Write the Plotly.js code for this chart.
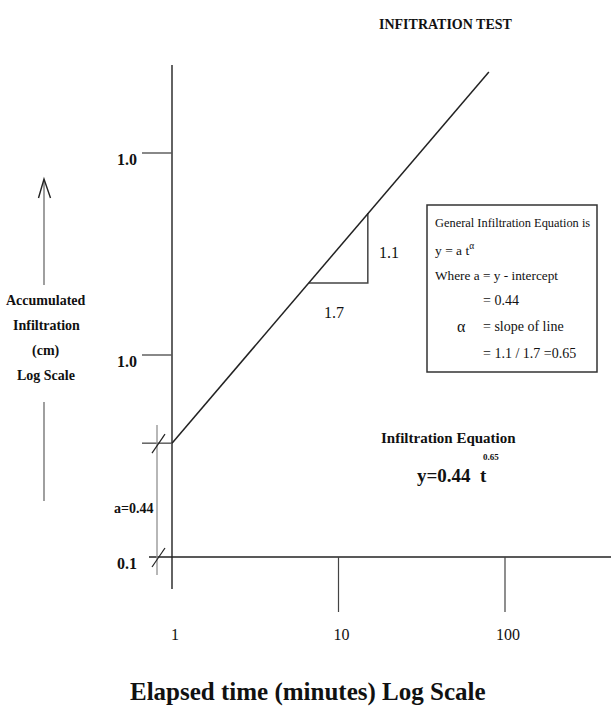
<!DOCTYPE html>
<html>
<head>
<meta charset="utf-8">
<script src="https://cdn.plot.ly/plotly-3.0.1.min.js"></script>
<style>html,body{margin:0;padding:0;background:#fff;}#chart{width:611px;height:709px;}</style>
</head>
<body>
<div id="chart"></div>
<script>
// ---- data ----
const xTickVals = [1, 10, 100];
const xTickText = ['1', '10', '100'];
const xTickMarkVals = [10, 100];          // x values that carry a drawn tick mark
const yTickVals = [0.1, 1, 10];
const yTickText = ['0.1', '1.0', '1.0'];
const yTickMarkVals = [1, 10];            // y values that carry a drawn tick mark
const lineT = [1, 80];                    // elapsed time (min)
const lineY = [0.366, 25.2];              // accumulated infiltration (cm), as drawn
const triT = [6.65, 15.0, 15.0];          // slope triangle
const triY = [2.27, 2.27, 5.05];
const interceptY = 0.366;                 // drawn intercept (labelled a=0.44)
const baseY = 0.1;
const yLabelLines = ['Accumulated', 'Infiltration', '(cm)', 'Log Scale'];
const boxLines = ['General Infiltration Equation is', 'y = a t<sup>α</sup>', 'Where a = y - intercept', '= 0.44', '= slope of line', '= 1.1 / 1.7 =0.65'];

// ---- scales ----
const W = 611, H = 709;
const X0PX = 172, XDEC = 166.5;   // pixel of t=1, pixels per decade
const Y01PX = 557, YDEC = 202;    // pixel of y=0.1, pixels per decade
const px2x = p => Math.pow(10, (p - X0PX) / XDEC);
const px2y = p => Math.pow(10, -1 + (Y01PX - p) / YDEC);
const xRange = [(0 - X0PX) / XDEC, (W - X0PX) / XDEC];
const yRange = [-1 - (H - Y01PX) / YDEC, -1 + Y01PX / YDEC];
const dx = (v, p) => v * Math.pow(10, p / XDEC);   // shift x value by p pixels
const dy = (v, p) => v * Math.pow(10, -p / YDEC);  // shift y value by p pixels (down +)

const FONT = 'Liberation Serif, Times New Roman, serif';
const ln = (x, y, color, width) => ({x, y, type: 'scatter', mode: 'lines', hoverinfo: 'skip', showlegend: false,
  line: {color: color, width: width}});

function segs(pairs) { const x = [], y = []; pairs.forEach(p => { x.push(p[0][0], p[1][0], null); y.push(p[0][1], p[1][1], null); }); return {x, y}; }

const traces = [];
// y axis line
traces.push(ln([1, 1], [px2y(65), px2y(589)], '#222', 1.4));
// x axis line
traces.push(ln([px2x(149), px2x(W + 5)], [baseY, baseY], '#222', 1.4));
// y tick marks
let s = segs(yTickMarkVals.map(v => [[px2x(142), v], [1, v]]));
traces.push(ln(s.x, s.y, '#555', 1.4));
// x tick marks
s = segs(xTickMarkVals.map(v => [[v, baseY], [v, px2y(612)]]));
traces.push(ln(s.x, s.y, '#444', 1.2));
// intercept mark
traces.push(ln([px2x(142), 1], [interceptY, interceptY], '#555', 1.4));
// dimension line for a
const dimX = px2x(157);
traces.push(ln([dimX, dimX], [px2y(425), px2y(575)], '#999', 1.4));
// slashes on dimension line
s = segs([interceptY, baseY].map(v => [[dx(dimX, -5), dy(v, 10)], [dx(dimX, 8), dy(v, -9)]]));
traces.push(ln(s.x, s.y, '#222', 1.2));
// slope triangle
traces.push(ln(triT, triY, '#444', 1.5));
// infiltration line
traces.push(ln(lineT, lineY, '#222', 1.5));

const P = (x, y) => ({x: x / W, y: 1 - y / H, xref: 'paper', yref: 'paper'});
const ann = (x, y, text, size, bold, extra) => Object.assign(P(x, y), {
  text: bold ? '<b>' + text + '</b>' : text, showarrow: false, xanchor: 'center', yanchor: 'middle',
  font: {family: FONT, size: size, color: '#111'}}, extra || {});

const annotations = [];
annotations.push(ann(446, 25, 'INFITRATION TEST', 14, true));
yLabelLines.forEach((t, i) => annotations.push(ann(46, 300 + i * 25.3, t, 14, true)));
annotations.push(ann(389, 252, '1.1', 16, false));
annotations.push(ann(334, 312, '1.7', 16, false));
const boxX = [433, 433, 433, 481, 481, 481];
const boxY = [223, 249, 275, 300, 327, 353];
const boxSize = [12.4, 13.5, 13.3, 14, 14, 14];
boxLines.forEach((t, i) => annotations.push(ann(boxX[i], boxY[i], t, boxSize[i], false, {xanchor: 'left'})));
annotations.push(ann(461, 327, 'α', 16, false));
annotations.push(ann(448, 438, 'Infiltration Equation', 15, true));
annotations.push(ann(452, 476, 'y=0.44&nbsp;&nbsp;t', 19, true));
annotations.push(ann(491, 457, '0.65', 9, true));
annotations.push(ann(133, 508, 'a=0.44', 14, true));
annotations.push(ann(308, 692, 'Elapsed time (minutes) Log Scale', 25, true));
// y tick labels, placed on the y scale
yTickVals.forEach((v, i) => annotations.push({x: 139 / W, xref: 'paper', y: Math.log10(v), yref: 'y',
  xanchor: 'right', yanchor: 'middle', yshift: -6, showarrow: false, text: '<b>' + yTickText[i] + '</b>',
  font: {family: FONT, size: 16, color: '#111'}}));

const pl = (x0, y0, x1, y1) => ({type: 'line', xref: 'paper', yref: 'paper', x0: x0 / W, x1: x1 / W,
  y0: 1 - y0 / H, y1: 1 - y1 / H, line: {color: '#777', width: 1.4}});
const shapes = [
  {type: 'rect', xref: 'paper', yref: 'paper', x0: 427 / W, x1: 597 / W, y0: 1 - 205 / H, y1: 1 - 372 / H,
   line: {color: '#333', width: 1.5}, fillcolor: 'rgba(0,0,0,0)'},
  pl(44, 180, 44, 285),
  pl(44, 402, 44, 501),
  {type: 'path', xref: 'paper', yref: 'paper',
   path: 'M ' + (38.5 / W) + ' ' + (1 - 198 / H) + ' L ' + (44 / W) + ' ' + (1 - 179 / H) + ' L ' + (50.5 / W) + ' ' + (1 - 198 / H),
   line: {color: '#222', width: 1.4}}
];

const layout = {
  width: W, height: H, margin: {l: 0, r: 0, t: 0, b: 0},
  paper_bgcolor: '#fff', plot_bgcolor: '#fff', showlegend: false,
  xaxis: {type: 'log', range: xRange, domain: [0, 1], anchor: 'free', position: 1 - Y01PX / H,
    showgrid: false, zeroline: false, showline: false, ticks: '',
    tickmode: 'array', tickvals: xTickVals, ticktext: xTickText, ticklabelstandoff: 66, ticklabelshift: 3,
    tickfont: {family: FONT, size: 16, color: '#111'}, fixedrange: true},
  yaxis: {type: 'log', range: yRange, domain: [0, 1], anchor: 'free', position: X0PX / W,
    showgrid: false, zeroline: false, showline: false, ticks: '', showticklabels: false,
    fixedrange: true},
  annotations: annotations, shapes: shapes
};

Plotly.newPlot('chart', traces, layout, {displayModeBar: false, staticPlot: true});
</script>
</body>
</html>
